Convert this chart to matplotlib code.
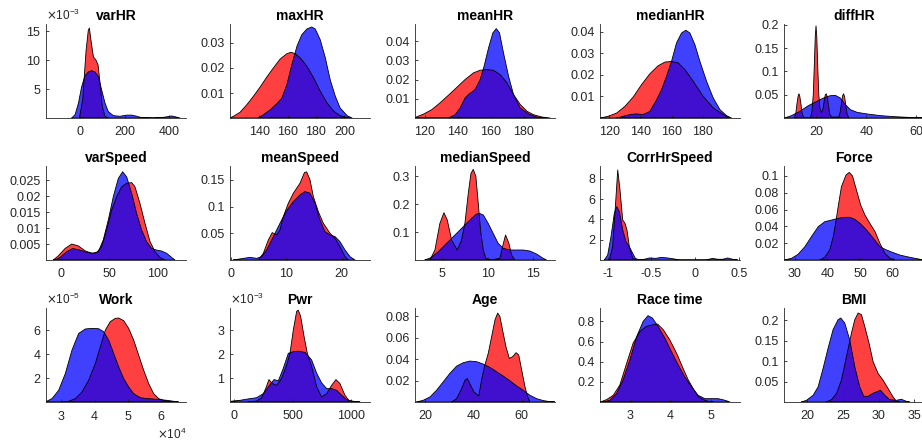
import matplotlib
matplotlib.use("Agg")
import matplotlib.pyplot as plt
from matplotlib.ticker import FuncFormatter

plt.rcParams['font.family'] = ['Liberation Sans', 'DejaVu Sans']

# ---------------- data (density curves) ----------------
titles = ["varHR", "maxHR", "meanHR", "medianHR", "diffHR",
          "varSpeed", "meanSpeed", "medianSpeed", "CorrHrSpeed", "Force",
          "Work", "Pwr", "Age", "Race time", "BMI"]

varHR_x_red = [-3, 12, 27, 37, 42, 49, 60, 72, 81, 90, 100, 112, 127]
varHR_d_red = [0, 3.2e-3, 11.7e-3, 15.2e-3, 15.6e-3, 13.5e-3, 10.6e-3, 10.0e-3, 9.2e-3, 6.0e-3, 2.0e-3, 0.3e-3, 0]
varHR_x_blue = [-37, -22, -7, 7, 22, 37, 52, 67, 82, 97, 112, 127, 150, 180, 210, 232, 255, 277, 330, 382, 412, 434, 449]
varHR_d_blue = [0, 0.6e-3, 2.6e-3, 5.4e-3, 7.3e-3, 8.0e-3, 8.2e-3, 8.0e-3, 7.2e-3, 4.9e-3, 2.6e-3, 1.1e-3, 0.4e-3,
                0.3e-3, 0.5e-3, 0.5e-3, 0.3e-3, 0.05e-3, 0, 0.15e-3, 0.35e-3, 0.15e-3, 0]

maxHR_x_red = [119.5, 122, 126.6, 131.3, 136, 140.7, 145.4, 150, 154.8, 159.5, 162.4, 165.4, 169, 173.6, 178.4,
               183, 187.8, 192.5, 197, 204]
maxHR_d_red = [0, .0007, .0023, .0053, .0087, .0124, .0164, .020, .0236, .0257, .0263, .0257, .024, .0207, .016,
               .0107, .006, .0027, .0009, 0]
maxHR_x_blue = [139.5, 143, 147.8, 152.5, 156, 159.5, 163, 166.6, 170, 173.6, 177, 179.5, 183, 186.6, 190, 193.6,
                197, 202, 205.4]
maxHR_d_blue = [0, .0013, .0033, .0057, .008, .0133, .0213, .0287, .0333, .0356, .0364, .0356, .0313, .024, .0153,
                .0087, .004, .0009, 0]

meanHR_x_red = [114, 119, 124, 129, 134, 139, 144.3, 149.4, 153.5, 157.6, 161.6, 165.7, 169.8, 173.8, 177.9, 182,
                186, 191, 196]
meanHR_d_red = [.0003, .002, .0043, .0078, .0117, .0157, .020, .0235, .0249, .0252, .0249, .0226, .0183, .0122,
                .007, .0035, .0017, .0005, 0]
meanHR_x_blue = [134.2, 138.3, 141.3, 144.3, 146.4, 150.4, 153.5, 155.9, 158.6, 161.2, 163.3, 165.3, 167.7, 170.8,
                 173.8, 177.9, 183, 188, 194.1]
meanHR_d_blue = [0, .0017, .0052, .0104, .0122, .0148, .020, .027, .0365, .0443, .0466, .0443, .0339, .0217,
                 .0122, .0052, .0021, .0005, 0]

medianHR_x_red = [114.4, 119.3, 124.7, 130, 135.4, 140.7, 146.1, 151.4, 155.7, 160, 164.3, 168.6, 173.9, 180.3,
                  186.8, 193.2, 197.5]
medianHR_d_red = [0, .0008, .0023, .0054, .0098, .0155, .0206, .0243, .026, .0263, .0256, .0225, .0171, .0101,
                  .0047, .0016, 0]
medianHR_x_blue = [124.7, 129, 133.2, 137.5, 141.8, 146.1, 150.4, 153.6, 156.8, 160, 163.2, 166.4, 169.2, 171.8,
                   175, 178.2, 182.5, 186.8, 191.1, 195.3, 198.5]
medianHR_d_blue = [0, .0008, .0016, .0019, .0016, .0031, .0085, .0132, .0194, .0264, .0349, .0395, .0408, .0395,
                   .0341, .0264, .0171, .0093, .0039, .0011, 0]

diffHR_x_red = [11.4, 12.0, 12.4, 12.9, 13.2, 13.5, 14.0, 14.4, 15.0, 15.6, 17.8, 18.4, 18.9, 19.3, 19.7, 20.0,
                20.3, 20.7, 21.1, 21.6, 22.2, 22.8, 23.3, 23.7, 24.1, 24.5, 25.0, 25.5, 26.2, 29.0, 29.6, 30.1,
                30.6, 31.0, 31.4, 31.9, 32.4, 33.1]
diffHR_d_red = [0, .012, .03, .048, .052, .048, .03, .012, .002, 0, 0, .015, .05, .11, .175, .198,
                .175, .11, .05, .02, .012, .02, .038, .05, .052, .045, .025, .008, .002, .002, .012, .03,
                .048, .052, .045, .025, .008, 0]
diffHR_x_blue = [7.5, 10.2, 13.6, 16.9, 20.3, 22.95, 25.6, 27.7, 29.7, 31.7, 33.7, 36.4, 40.4, 45.8, 51.1, 56.5,
                 61.9, 66]
diffHR_d_blue = [0, .005, .0143, .0264, .0357, .0429, .0479, .0486, .0429, .0286, .0179, .0121, .0086, .005,
                 .0029, .0014, .0007, 0]

varSpeed_x_red = [-8, -2.8, 4.2, 11.1, 18, 24.9, 31.8, 37, 42.2, 47.4, 52.6, 57.8, 63, 68.2, 73.4, 76.8, 82, 87.2,
                  92.4, 97.6, 102.8, 108]
varSpeed_d_red = [0, .0013, .0036, .005, .0044, .0029, .0021, .0023, .0042, .0094, .0156, .0198, .0229, .024,
                  .0242, .0229, .0177, .0115, .0058, .0026, .0008, 0]
varSpeed_x_blue = [-6.2, -1, 5.9, 12.1, 19.7, 26.6, 33.6, 38.8, 43.9, 49.1, 54.3, 59.5, 64, 68.2, 73.4, 78.5,
                   83.7, 88.9, 94.1, 99.3, 104.5, 109.7, 114.9, 118.3]
varSpeed_d_blue = [0, .0008, .0026, .0036, .0031, .0024, .0021, .0026, .0063, .0125, .0198, .0255, .0276, .026,
                   .0208, .0146, .0094, .0057, .0036, .0031, .0028, .0021, .0008, 0]

meanSpeed_x_red = [5, 5.9, 6.8, 7.5, 8.3, 8.9, 9.5, 10.4, 11.3, 12.5, 13.3, 13.7, 14.3, 14.9, 15.8, 16.7, 17.9,
                   18.8, 19.7, 20.6, 21.2]
meanSpeed_d_red = [0, .0125, .0375, .0513, .0469, .0563, .0813, .1063, .125, .1438, .1638, .165, .15, .1188,
                   .0906, .0688, .05, .0406, .025, .0063, 0]
meanSpeed_x_blue = [.5, 2, 3.5, 4.7, 5.6, 6.5, 7.4, 8.3, 9.2, 10.1, 11.3, 12.5, 13.4, 14.3, 15.2, 16.1, 17, 17.9,
                    18.8, 19.7, 20.6, 21.5, 22.4]
meanSpeed_d_blue = [0, .0025, .005, .0031, .0063, .0188, .0375, .0563, .075, .0925, .1094, .1219, .1281, .125,
                    .1063, .075, .0531, .0469, .0438, .0344, .0188, .0063, 0]

medianSpeed_x_red = [3.64, 4.19, 4.74, 5.18, 5.55, 6.03, 6.65, 7.12, 7.49, 7.86, 8.15, 8.41, 8.7, 8.96, 9.21, 9.51,
                     9.8, 10.31, 11.34, 11.63, 11.96, 12.33, 12.62, 12.99]
medianSpeed_d_red = [0, .0357, .131, .169, .143, .0714, .0357, .0714, .131, .238, .309, .324, .298, .202, .107,
                     .0357, .006, 0, .006, .0476, .0893, .0595, .0179, 0]
medianSpeed_x_blue = [3.1, 3.83, 4.56, 5.29, 6.03, 6.76, 7.49, 8.22, 8.77, 9.07, 9.51, 10.05, 10.6, 11.15, 11.7,
                      12.44, 13.17, 13.9, 14.63, 15.37, 16.1, 16.47]
medianSpeed_d_blue = [0, .0095, .0298, .0536, .0774, .101, .125, .149, .164, .167, .161, .131, .0952, .0595,
                      .0417, .0357, .0357, .0357, .0321, .0214, .006, 0]

corr_x_red = [-.981, -.943, -.912, -.885, -.859, -.828, -.802, -.779, -.752, -.714, -.676]
corr_d_red = [0, 1.31, 5.25, 8.86, 6.89, 3.94, 3.61, 2.95, 1.31, .16, 0]
corr_x_blue = [-1.038, -1, -.962, -.924, -.897, -.866, -.828, -.79, -.752, -.714, -.683, -.637, -.58, -.523, -.447,
               -.389, -.313, -.237, -.179, .126, .202, .26, .317, .374, .431, .489]
corr_d_blue = [0, .49, 2.3, 4.59, 5.25, 4.76, 2.95, 1.8, 1.31, .66, .16, 0, .07, .2, .16, .26, .2, .1, 0, 0, .16,
               .07, .07, .2, .07, 0]

force_x_red = [37.7, 39.2, 40.7, 41.8, 42.6, 43.3, 44.3, 45.7, 46.7, 47.7, 48.9, 50.2, 51.5, 53, 54.6, 56.1, 57.6,
               59.2, 60.7]
force_d_red = [0, .0032, .0119, .0277, .0455, .0634, .0871, .101, .1041, .0998, .0832, .0653, .0535, .0436, .0337,
               .0198, .0079, .002, 0]
force_x_blue = [26.9, 29, 31, 33.1, 35.1, 37.2, 39.2, 41.3, 43.3, 45.4, 46.9, 48.4, 50, 52, 54.1, 56.1, 58.1, 60.2,
                62.2, 64.3, 66.3, 68.4, 69.4]
force_d_blue = [0, .002, .0067, .0158, .0277, .0396, .0455, .0475, .0495, .0507, .0507, .0483, .0436, .0356, .0257,
                .0158, .0119, .0087, .0059, .004, .0024, .0008, 0]

work_x_red = [3.02e4, 3.22e4, 3.42e4, 3.62e4, 3.82e4, 4.02e4, 4.17e4, 4.32e4, 4.47e4, 4.62e4, 4.72e4, 4.87e4,
              5.02e4, 5.17e4, 5.32e4, 5.47e4, 5.62e4, 5.77e4, 5.92e4, 6.07e4, 6.22e4, 6.37e4]
work_d_red = [0, .06e-5, .28e-5, .83e-5, 1.81e-5, 3.19e-5, 4.58e-5, 5.97e-5, 6.67e-5, 6.94e-5, 6.97e-5, 6.75e-5,
              6.11e-5, 5.14e-5, 3.89e-5, 2.64e-5, 1.53e-5, .69e-5, .28e-5, .14e-5, .06e-5, 0]
work_x_blue = [2.54e4, 2.72e4, 2.92e4, 3.12e4, 3.32e4, 3.52e4, 3.72e4, 3.92e4, 4.12e4, 4.27e4, 4.42e4, 4.57e4,
               4.72e4, 4.87e4, 5.02e4, 5.17e4, 5.37e4, 5.57e4, 5.77e4, 5.97e4, 6.17e4, 6.37e4, 6.52e4]
work_d_blue = [.03e-5, .28e-5, .97e-5, 2.36e-5, 4.31e-5, 5.69e-5, 6.06e-5, 6.11e-5, 6.08e-5, 5.83e-5, 5.14e-5,
               4.03e-5, 2.92e-5, 1.94e-5, 1.25e-5, .69e-5, .36e-5, .28e-5, .25e-5, .19e-5, .14e-5, .06e-5, 0]

pwr_x_red = [122, 193, 236, 270, 298, 327, 364, 406, 449, 477, 506, 534, 548, 568, 597, 625, 662, 705, 747, 790,
             832, 869, 903, 946, 989]
pwr_d_red = [0, .04e-3, .18e-3, .56e-3, .94e-3, .77e-3, .70e-3, .99e-3, 1.55e-3, 2.04e-3, 3.03e-3, 3.8e-3,
             3.85e-3, 3.59e-3, 2.75e-3, 2.04e-3, 1.48e-3, .63e-3, .21e-3, .35e-3, .70e-3, .94e-3, .77e-3, .28e-3, 0]
pwr_x_blue = [-20, 51, 122, 193, 250, 293, 341, 378, 420, 463, 506, 548, 605, 662, 705, 747, 790, 832, 875, 918,
              960, 1017, 1074]
pwr_d_blue = [.03e-3, .07e-3, .13e-3, .18e-3, .35e-3, .63e-3, .94e-3, .89e-3, 1.41e-3, 2.04e-3, 2.11e-3, 2.13e-3,
              2.08e-3, 1.76e-3, 1.2e-3, .8e-3, .56e-3, .56e-3, .49e-3, .28e-3, .1e-3, .03e-3, 0]

age_x_red = [31, 33.1, 35.2, 36.6, 37.5, 38.9, 40.3, 42.3, 43.4, 44.8, 46.2, 47.6, 49, 50.1, 51, 52.1, 53.5, 54.9,
             56.3, 57.7, 58.8, 60, 61.4, 62.3, 63.4]
age_d_red = [0, .0031, .0125, .0203, .0219, .0156, .0094, .0056, .0203, .0344, .0453, .0609, .0766, .0828, .0797,
             .0672, .0516, .0406, .0422, .0459, .0438, .03, .0141, .0063, 0]
age_x_blue = [16.6, 19.3, 22.1, 24.8, 27.6, 30.3, 33.1, 35.9, 38.6, 41.4, 44.1, 46.9, 49.7, 52.4, 55.2, 57.9, 60.7,
              63.4, 66.2, 69, 71.7, 73.8]
age_d_blue = [0, .0016, .0047, .0109, .0188, .0266, .0334, .0366, .0381, .0375, .0353, .0322, .0281, .0241, .0197,
              .015, .0109, .0063, .0031, .0013, .0003, 0]

race_x_red = [2.27, 2.42, 2.59, 2.75, 2.92, 3.08, 3.25, 3.41, 3.58, 3.69, 3.83, 3.99, 4.16, 4.32, 4.45, 4.57, 4.69,
              4.82, 4.94, 5.07]
race_d_red = [0, .023, .067, .167, .383, .583, .7, .75, .767, .773, .717, .617, .483, .333, .217, .133, .057, .023,
              .007, 0]
race_x_blue = [2.34, 2.5, 2.67, 2.83, 3, 3.17, 3.33, 3.45, 3.56, 3.7, 3.87, 4.03, 4.2, 4.36, 4.53, 4.69, 4.86,
               5.02, 5.19, 5.36, 5.48]
race_d_blue = [0, .017, .083, .217, .417, .65, .8, .857, .833, .75, .633, .5, .367, .25, .15, .067, .033, .033,
               .033, .017, 0]

bmi_x_red = [22.67, 23.38, 24.08, 24.78, 25.49, 26.19, 26.66, 27.13, 27.6, 28.06, 28.67, 29.24, 29.94, 30.64,
             31.35, 32.05, 32.52, 32.99]
bmi_d_red = [0, .0057, .0205, .0533, .1107, .1681, .2009, .2173, .2132, .1845, .1435, .0984, .0697, .0533, .0328,
             .0123, .0016, 0]
bmi_x_blue = [19.16, 19.86, 20.8, 21.5, 22.2, 22.9, 23.6, 24.31, 24.69, 25.25, 25.95, 26.66, 27.36, 27.92, 28.53,
              29.14, 29.7, 30.27, 30.88, 31.58, 32.52, 33.22, 33.92, 34.39]
bmi_d_blue = [0, .0041, .0164, .0369, .082, .1312, .1763, .2009, .205, .1927, .1517, .0861, .0369, .0139, .0139,
              .0205, .0246, .0287, .0164, .0057, .0041, .0066, .0016, 0]

x_ticks = [[0, 200, 400], [140, 160, 180, 200], [120, 140, 160, 180], [120, 140, 160, 180], [20, 40, 60],
           [0, 50, 100], [0, 10, 20], [5, 10, 15], [-1, -0.5, 0, 0.5], [30, 40, 50, 60],
           [3e4, 4e4, 5e4, 6e4], [0, 500, 1000], [20, 40, 60], [3, 4, 5], [20, 25, 30, 35]]
y_ticks = [[5e-3, 10e-3, 15e-3], [.01, .02, .03], [.01, .02, .03, .04], [.01, .02, .03, .04], [.05, .1, .15, .2],
           [.005, .01, .015, .02, .025], [.05, .1, .15], [.1, .2, .3], [2, 4, 6, 8], [.02, .04, .06, .08, .1],
           [2e-5, 4e-5, 6e-5], [1e-3, 2e-3, 3e-3], [.02, .04, .06, .08], [.2, .4, .6, .8], [.05, .1, .15, .2]]

curves = [(varHR_x_red, varHR_d_red, varHR_x_blue, varHR_d_blue),
          (maxHR_x_red, maxHR_d_red, maxHR_x_blue, maxHR_d_blue),
          (meanHR_x_red, meanHR_d_red, meanHR_x_blue, meanHR_d_blue),
          (medianHR_x_red, medianHR_d_red, medianHR_x_blue, medianHR_d_blue),
          (diffHR_x_red, diffHR_d_red, diffHR_x_blue, diffHR_d_blue),
          (varSpeed_x_red, varSpeed_d_red, varSpeed_x_blue, varSpeed_d_blue),
          (meanSpeed_x_red, meanSpeed_d_red, meanSpeed_x_blue, meanSpeed_d_blue),
          (medianSpeed_x_red, medianSpeed_d_red, medianSpeed_x_blue, medianSpeed_d_blue),
          (corr_x_red, corr_d_red, corr_x_blue, corr_d_blue),
          (force_x_red, force_d_red, force_x_blue, force_d_blue),
          (work_x_red, work_d_red, work_x_blue, work_d_blue),
          (pwr_x_red, pwr_d_red, pwr_x_blue, pwr_d_blue),
          (age_x_red, age_d_red, age_x_blue, age_d_blue),
          (race_x_red, race_d_red, race_x_blue, race_d_blue),
          (bmi_x_red, bmi_d_red, bmi_x_blue, bmi_d_blue)]

# ---------------- layout / style ----------------
x_lims = [(-153, 476), (119.5, 218), (113.9, 199), (114, 204), (7.25, 63),
          (-15.6, 129.8), (-0.1, 25.1), (2.0, 17.4), (-1.088, 0.515), (26.7, 69.6),
          (2.54e4, 6.74e4), (-34, 1159), (15.9, 73.8), (2.26, 5.73), (16.7, 36.4)]
y_tops = [16.3e-3, 0.0376, 0.049, 0.0437, 0.202,
          0.0294, 0.176, 0.336, 9.25, 0.1117,
          7.8e-5, 3.94e-3, 0.0875, 0.933, 0.2295]
y_sci = {0: -3, 10: -5, 11: -3}
x_sci = {10: 4}

W, H = 922, 446
fig = plt.figure(figsize=(W / 100, H / 100), dpi=100)
col_left = [46, 230, 415, 600, 784]
row_bottom = [118, 260, 402]
aw, ah = 140, 94
axc = (0.15, 0.15, 0.15)
red_c = (1, 0, 0)
blue_c = (0, 0, 1)
fmt = FuncFormatter(lambda v, p: "%g" % v)

for i in range(15):
    r, c = divmod(i, 5)
    ax = fig.add_axes([col_left[c] / W, 1 - row_bottom[r] / H, aw / W, ah / H])
    xr, dr, xb, db = curves[i]
    ax.fill(xr, dr, facecolor=red_c, alpha=0.75, edgecolor='none')
    ax.plot(list(xr) + [xr[0]], list(dr) + [dr[0]], color='k', lw=0.6)
    ax.fill(xb, db, facecolor=blue_c, alpha=0.75, edgecolor='none')
    ax.plot(list(xb) + [xb[0]], list(db) + [db[0]], color='k', lw=0.6)
    ax.set_xlim(*x_lims[i])
    ax.set_ylim(0, y_tops[i])
    ax.set_xticks(x_ticks[i])
    ax.set_yticks(y_ticks[i])
    if i in y_sci:
        ax.ticklabel_format(axis='y', style='sci', scilimits=(y_sci[i], y_sci[i]), useMathText=True)
    else:
        ax.yaxis.set_major_formatter(fmt)
    if i in x_sci:
        ax.ticklabel_format(axis='x', style='sci', scilimits=(x_sci[i], x_sci[i]), useMathText=True)
    else:
        ax.xaxis.set_major_formatter(fmt)
    ax.yaxis.get_offset_text().set_fontsize(8.5)
    ax.yaxis.get_offset_text().set_color(axc)
    ax.xaxis.get_offset_text().set_fontsize(8.5)
    ax.xaxis.get_offset_text().set_color(axc)
    for s in ['top', 'right']:
        ax.spines[s].set_visible(False)
    for s in ['left', 'bottom']:
        ax.spines[s].set_color(axc)
        ax.spines[s].set_linewidth(0.6)
    ax.tick_params(axis='both', direction='in', length=2, width=0.6, colors=axc, labelsize=9)
    ax.tick_params(axis='x', pad=5.5)
    ax.tick_params(axis='y', pad=3.5)
    ax.set_title(titles[i], fontsize=10, fontweight='bold', pad=3)

fig.savefig("out.png", dpi=100)
